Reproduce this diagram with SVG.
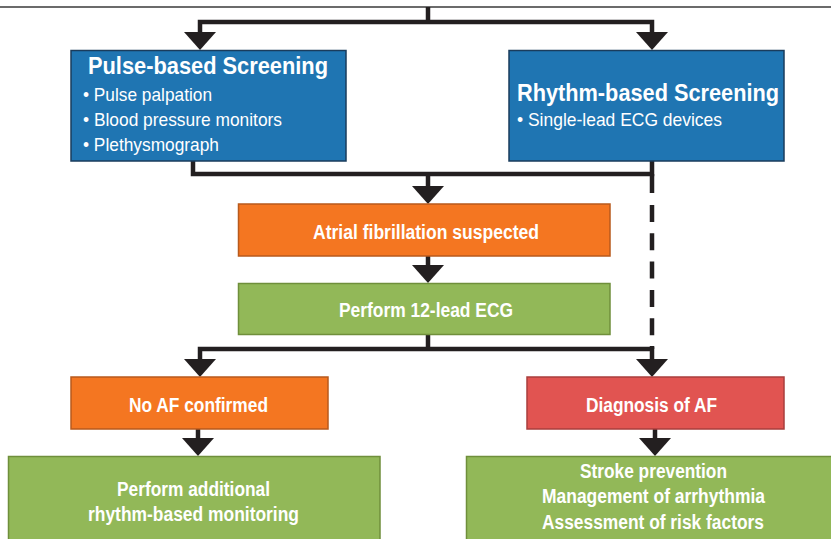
<svg xmlns="http://www.w3.org/2000/svg" width="831" height="539" viewBox="0 0 831 539">
<style>
.box{stroke-width:1.5}
.blue{fill:#1f75b2;stroke:#1a3c5c}
.orange{fill:#f47621;stroke:#b85a1c}
.green{fill:#92b858;stroke:#6f8f3b}
.red{fill:#e15451;stroke:#a93e3c}
.t{font-family:"Liberation Sans Narrow","Liberation Sans",Arial,sans-serif;fill:#ffffff}
.title{font-size:24px;font-weight:bold}
.bul{font-size:19px}
.lbl{font-size:20px;font-weight:bold;text-anchor:middle}
.c{fill:none;stroke:#231f20;stroke-width:4.5;stroke-linejoin:miter}
.d{stroke-dasharray:17 11.3}
</style>
<defs>
<marker id="ah" viewBox="0 0 18 32" refX="3" refY="16" markerWidth="18" markerHeight="32" markerUnits="userSpaceOnUse" orient="auto">
<polygon points="0,0 18,16 0,32" fill="#231f20"/>
</marker>
</defs>
<rect width="831" height="539" fill="#ffffff"/>
<g id="top-box"><line x1="0" y1="7" x2="831" y2="7" stroke="#3a3a3a" stroke-width="1.5"/></g>

<g id="connectors">
<path class="c" d="M428 7 V22"/>
<path class="c" d="M428 22 H200 V35" marker-end="url(#ah)"/>
<path class="c" d="M428 22 H652 V35" marker-end="url(#ah)"/>
<path class="c" d="M193 161 V174 H652 V161"/>
<path class="c" d="M428 174 V189" marker-end="url(#ah)"/>
<path class="c" d="M652 174 V193"/>
<path class="c d" d="M652 205 V340"/>
<path class="c" d="M428 256 V268" marker-end="url(#ah)"/>
<path class="c" d="M428 334 V349"/>
<path class="c" d="M428 349 H200 V362" marker-end="url(#ah)"/>
<path class="c" d="M428 349 H652 V362" marker-end="url(#ah)"/>
<path class="c" d="M652 346 V349"/>
<path class="c" d="M198 429 V441" marker-end="url(#ah)"/>
<path class="c" d="M655 429 V441" marker-end="url(#ah)"/>
</g>

<g id="pulse">
<rect class="box blue" x="71" y="50.5" width="275" height="110.5"/>
<text class="t title" x="88" y="74" textLength="240" lengthAdjust="spacingAndGlyphs">Pulse-based Screening</text>
<text class="t bul" x="83" y="101" textLength="129" lengthAdjust="spacingAndGlyphs">• Pulse palpation</text>
<text class="t bul" x="83" y="126" textLength="199" lengthAdjust="spacingAndGlyphs">• Blood pressure monitors</text>
<text class="t bul" x="83" y="151" textLength="136" lengthAdjust="spacingAndGlyphs">• Plethysmograph</text>
</g>

<g id="rhythm">
<rect class="box blue" x="509" y="50.5" width="275" height="110.5"/>
<text class="t title" x="517" y="101" textLength="262" lengthAdjust="spacingAndGlyphs">Rhythm-based Screening</text>
<text class="t bul" x="517" y="126" textLength="205" lengthAdjust="spacingAndGlyphs">• Single-lead ECG devices</text>
</g>

<g id="suspected">
<rect class="box orange" x="238.5" y="204" width="371.5" height="52"/>
<text class="t lbl" x="426" y="239" textLength="226" lengthAdjust="spacingAndGlyphs">Atrial fibrillation suspected</text>
</g>

<g id="ecg12">
<rect class="box green" x="238.5" y="283.5" width="371.5" height="51"/>
<text class="t lbl" x="426" y="317" textLength="174" lengthAdjust="spacingAndGlyphs">Perform 12-lead ECG</text>
</g>

<g id="noaf">
<rect class="box orange" x="71" y="377" width="257" height="52"/>
<text class="t lbl" x="198.5" y="412" textLength="139" lengthAdjust="spacingAndGlyphs">No AF confirmed</text>
</g>

<g id="diagnosis">
<rect class="box red" x="527" y="377" width="257" height="52"/>
<text class="t lbl" x="651.5" y="412" textLength="131" lengthAdjust="spacingAndGlyphs">Diagnosis of AF</text>
</g>

<g id="monitoring">
<rect class="box green" x="8.5" y="456.5" width="371.5" height="100"/>
<text class="t lbl" x="193.5" y="496" textLength="153" lengthAdjust="spacingAndGlyphs">Perform additional</text>
<text class="t lbl" x="193.5" y="521" textLength="211" lengthAdjust="spacingAndGlyphs">rhythm-based monitoring</text>
</g>

<g id="management">
<rect class="box green" x="466.5" y="456.5" width="380" height="100"/>
<text class="t lbl" x="653.5" y="478" textLength="147" lengthAdjust="spacingAndGlyphs">Stroke prevention</text>
<text class="t lbl" x="653.5" y="503" textLength="223" lengthAdjust="spacingAndGlyphs">Management of arrhythmia</text>
<text class="t lbl" x="653" y="529" textLength="222" lengthAdjust="spacingAndGlyphs">Assessment of risk factors</text>
</g>
</svg>
